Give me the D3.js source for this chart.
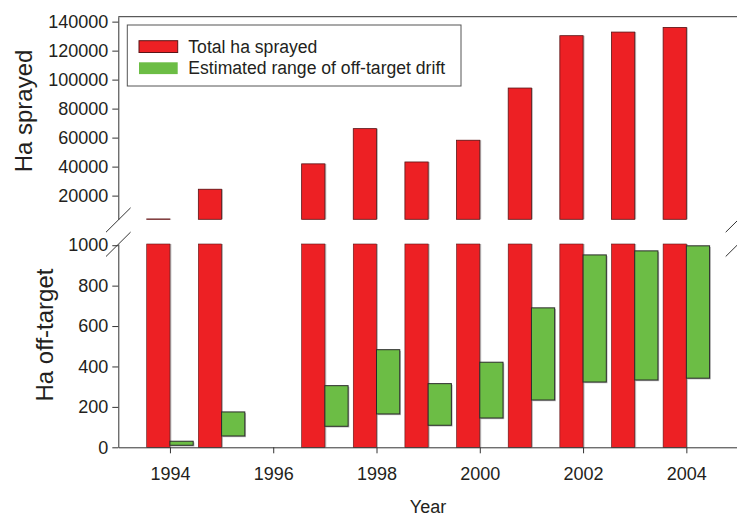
<!DOCTYPE html>
<html>
<head>
<meta charset="utf-8">
<script src="https://cdn.jsdelivr.net/npm/d3@7"></script>
<style>
  body { margin: 0; background: #fff; }
  svg { display: block; font-family: "Liberation Sans", Arial, Helvetica, sans-serif; }
  .tick text { fill: #231f20; }
</style>
</head>
<body>
<div id="chart"></div>
<script>
const years = [1994, 1995, 1996, 1997, 1998, 1999, 2000, 2001, 2002, 2003, 2004];
const totalSprayed = [3900, 24400, null, 41900, 66200, 43200, 58200, 94200, 130300, 132800, 136000];
const driftLow = [10, 56, null, 104, 165, 109, 145, 234, 323, 333, 342];
const driftHigh = [30, 175, null, 305, 483, 315, 421, 690, 952, 972, 997];
const topTicks = [20000, 40000, 60000, 80000, 100000, 120000, 140000];
const bottomTicks = [0, 200, 400, 600, 800, 1000];
const yearTicks = [1994, 1996, 1998, 2000, 2002, 2004];

const width = 737, height = 517;
const left = 118.3, right = 738;
const red = "#ed2024", green = "#6cbd45", ink = "#231f20";

const svg = d3.select("#chart").append("svg").attr("width", width).attr("height", height);

const x = d3.scaleLinear().domain([1993, 2005]).range([left, right]);
const yTop = d3.scaleLinear().domain([3660, 143400]).range([219.3, 16.7]);
const yBot = d3.scaleLinear().domain([0, 1006]).range([447.3, 244]);
const barW = x(1994) - x(1993.55);

const rows = years.map((year, i) => ({ year, total: totalSprayed[i], low: driftLow[i], high: driftHigh[i] }));
const sprayed = rows.filter((d) => d.total != null);
const drift = rows.filter((d) => d.low != null);

// red bars, top panel
const topBars = svg.append("g");
topBars.selectAll("rect.shadow").data(sprayed).join("rect").attr("class", "shadow")
  .attr("x", (d) => x(d.year) - barW + 1.4).attr("y", (d) => yTop(d.total))
  .attr("width", barW).attr("height", (d) => yTop.range()[0] - yTop(d.total)).attr("fill", "#b5b5b5");
topBars.selectAll("rect.bar").data(sprayed).join("rect").attr("class", "bar")
  .attr("x", (d) => x(d.year) - barW).attr("y", (d) => yTop(d.total))
  .attr("width", barW).attr("height", (d) => yTop.range()[0] - yTop(d.total))
  .attr("fill", red).attr("stroke", "#5a1416").attr("stroke-width", 0.8);

// red bars, bottom panel (cut at the top)
const botBars = svg.append("g");
botBars.selectAll("rect.shadow").data(sprayed).join("rect").attr("class", "shadow")
  .attr("x", (d) => x(d.year) - barW + 1.4).attr("y", (d) => yBot(Math.min(d.total, 1006)))
  .attr("width", barW).attr("height", (d) => yBot(0) - yBot(Math.min(d.total, 1006))).attr("fill", "#b5b5b5");
botBars.selectAll("rect.bar").data(sprayed).join("rect").attr("class", "bar")
  .attr("x", (d) => x(d.year) - barW).attr("y", (d) => yBot(Math.min(d.total, 1006)))
  .attr("width", barW).attr("height", (d) => yBot(0) - yBot(Math.min(d.total, 1006)))
  .attr("fill", red).attr("stroke", "#5a1416").attr("stroke-width", 0.6);

// green drift ranges
const driftBars = svg.append("g");
driftBars.selectAll("rect.shadow").data(drift).join("rect").attr("class", "shadow")
  .attr("x", (d) => x(d.year) + 1.2).attr("y", (d) => yBot(d.high) + 1.2)
  .attr("width", barW).attr("height", (d) => yBot(d.low) - yBot(d.high)).attr("fill", "#b5b5b5");
driftBars.selectAll("rect.bar").data(drift).join("rect").attr("class", "bar")
  .attr("x", (d) => x(d.year)).attr("y", (d) => yBot(d.high))
  .attr("width", barW).attr("height", (d) => yBot(d.low) - yBot(d.high))
  .attr("fill", green).attr("stroke", "#2b2b2b").attr("stroke-width", 1);

// axes
const axisStyle = (g) => {
  g.selectAll("path.domain").attr("stroke", "#333");
  g.selectAll(".tick line").attr("stroke", "#333");
  g.selectAll(".tick text").attr("font-size", 18).attr("fill", ink);
};
svg.append("g").attr("transform", `translate(${left},0)`)
  .call(d3.axisLeft(yTop).tickValues(topTicks).tickFormat(d3.format("d")).tickSize(6).tickSizeOuter(0).tickPadding(4))
  .call(axisStyle).attr("font-family", null);
svg.append("g").attr("transform", `translate(${left},0)`)
  .call(d3.axisLeft(yBot).tickValues(bottomTicks).tickFormat(d3.format("d")).tickSize(6).tickSizeOuter(0).tickPadding(4))
  .call(axisStyle).attr("font-family", null);
svg.append("g").attr("transform", `translate(0,${yBot(0)})`)
  .call(d3.axisBottom(x).tickValues(yearTicks).tickFormat(d3.format("d")).tickSize(6).tickSizeOuter(0).tickPadding(14))
  .call(axisStyle).attr("font-family", null);

// top frame line
svg.append("line").attr("x1", left).attr("x2", right).attr("y1", yTop.range()[1]).attr("y2", yTop.range()[1])
  .attr("stroke", "#333").attr("stroke-width", 1);

// axis break marks
const breaks = [];
[left, right].forEach((bx) => [yTop.range()[0] + 0.7, yBot.range()[1] + 0.3].forEach((by) => breaks.push({ bx, by })));
svg.append("g").selectAll("line").data(breaks).join("line")
  .attr("x1", (d) => d.bx - 12.3).attr("y1", (d) => d.by + 12.2)
  .attr("x2", (d) => d.bx + 12.3).attr("y2", (d) => d.by - 12.2)
  .attr("stroke", "#333").attr("stroke-width", 1);

// axis titles
svg.append("text").attr("transform", "translate(32,111) rotate(-90)").attr("text-anchor", "middle")
  .attr("font-size", 24).attr("fill", ink).text("Ha sprayed");
svg.append("text").attr("transform", "translate(53,335) rotate(-90)").attr("text-anchor", "middle")
  .attr("font-size", 24).attr("fill", ink).text("Ha off-target");
svg.append("text").attr("x", 428).attr("y", 513).attr("text-anchor", "middle")
  .attr("font-size", 18).attr("fill", ink).text("Year");

// legend
const legendItems = [
  { label: "Total ha sprayed", fill: red, stroke: "#5a1416" },
  { label: "Estimated range of off-target drift", fill: green, stroke: "none" }
];
const legend = svg.append("g");
legend.append("rect").attr("x", 127.3).attr("y", 25).attr("width", 333.7).attr("height", 61)
  .attr("fill", "#fff").attr("stroke", "#555").attr("stroke-width", 1);
const item = legend.selectAll("g.item").data(legendItems).join("g").attr("class", "item")
  .attr("transform", (d, i) => `translate(139,${40.7 + i * 21.6})`);
item.append("rect").attr("width", 38.7).attr("height", 11.8)
  .attr("fill", (d) => d.fill).attr("stroke", (d) => d.stroke).attr("stroke-width", 1);
item.append("text").attr("x", 49.3).attr("y", 12).attr("font-size", 17.6).attr("fill", ink)
  .text((d) => d.label);
</script>
</body>
</html>
